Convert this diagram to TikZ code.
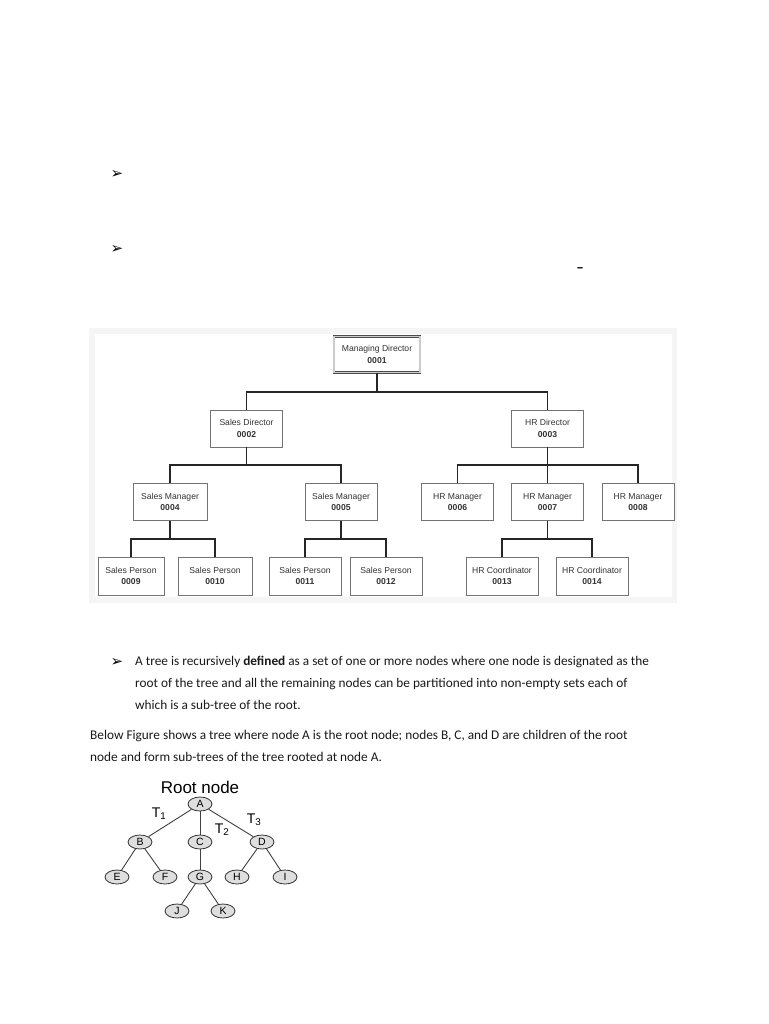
\documentclass[tikz,border=0pt]{standalone}
\usepackage{fontspec}
\setmainfont{Carlito}
\newfontfamily\orgfont{Liberation Sans}
\newfontfamily\symbolfont{DejaVu Sans}
\usetikzlibrary{shapes.geometric}

\begin{document}
\begin{tikzpicture}
	[
		x=1pt, y=-1pt,
		orgbox/.style={draw=black!55, line width=0.8pt, fill=white, align=center, minimum width=72pt, minimum height=37pt, inner sep=1pt, text=black!80, font=\orgfont\fontsize{8.6}{11.5}\selectfont},
		topbox/.style={orgbox, draw=black!70, double=black!20, double distance=1.2pt, minimum width=86pt, minimum height=36pt},
		orgline/.style={draw=black!85, line width=1.2pt},
		treenode/.style={ellipse, draw=black!80, fill=black!13, line width=0.8pt, minimum width=24pt, minimum height=14pt, inner sep=0pt, font=\orgfont\fontsize{10.5}{10.5}\selectfont},
		treelabel/.style={inner sep=0pt, font=\orgfont\fontsize{14}{15}\selectfont},
		bullet/.style={inner sep=0pt, font=\symbolfont\bfseries\fontsize{15}{15}\selectfont},
		bodytext/.style={anchor=north west, inner sep=0pt, align=left, text=black!90, font=\fontsize{13.3}{22}\selectfont}
	]

	\useasboundingbox (0,0) rectangle (768,1024);

	% text above the chart
	\node [bullet] (bul1) at (117,175) {➢};
	\node [bullet] (bul2) at (117,250) {➢};
	\node [inner sep=0pt, font=\bfseries\fontsize{15}{16}\selectfont] (dash) at (580,270) {–};

	% frame of the chart
	\fill [black!4] (89,328) rectangle (677,603);
	\fill [white] (95,334) rectangle (672,597);

	% org chart
	\node [topbox] (md) at (377,354.5) {Managing Director\\\textbf{0001}};

	\node [orgbox] (sd) at (246.5,428.5) {Sales Director\\\textbf{0002}};
	\node [orgbox] (hrd) at (547.5,428.5) {HR Director\\\textbf{0003}};

	\node [orgbox, minimum width=74pt] (sm4) at (170,502) {Sales Manager\\\textbf{0004}};
	\node [orgbox] (sm5) at (341,502) {Sales Manager\\\textbf{0005}};
	\node [orgbox] (hrm6) at (457.5,502) {HR Manager\\\textbf{0006}};
	\node [orgbox] (hrm7) at (547.5,502) {HR Manager\\\textbf{0007}};
	\node [orgbox] (hrm8) at (638,502) {HR Manager\\\textbf{0008}};

	\node [orgbox, minimum width=66pt, minimum height=38pt] (sp9) at (131,576) {Sales Person\\\textbf{0009}};
	\node [orgbox, minimum width=74pt, minimum height=38pt] (sp10) at (215,576) {Sales Person\\\textbf{0010}};
	\node [orgbox, minimum height=38pt] (sp11) at (305,576) {Sales Person\\\textbf{0011}};
	\node [orgbox, minimum height=38pt] (sp12) at (386,576) {Sales Person\\\textbf{0012}};
	\node [orgbox, minimum height=38pt] (hrc13) at (502,576) {HR Coordinator\\\textbf{0013}};
	\node [orgbox, minimum height=38pt] (hrc14) at (592,576) {HR Coordinator\\\textbf{0014}};

	\coordinate (mdbar) at (377,392);
	\coordinate (sdbar) at (246.5,465);
	\coordinate (hrdbar) at (547.5,465);
	\coordinate (sm4bar) at (170,539);
	\coordinate (sm5bar) at (341,539);
	\coordinate (hrm7bar) at (547.5,539);

	\draw [orgline] (md) -- (mdbar) -| (sd);
	\draw [orgline] (mdbar) -| (hrd);

	\draw [orgline] (sd) -- (sdbar) -| (sm4);
	\draw [orgline] (sdbar) -| (sm5);

	\draw [orgline] (hrd) -- (hrdbar) -| (hrm6);
	\draw [orgline] (hrdbar) -- (hrm7);
	\draw [orgline] (hrdbar) -| (hrm8);

	\draw [orgline] (sm4) -- (sm4bar) -| (sp9);
	\draw [orgline] (sm4bar) -| (sp10);

	\draw [orgline] (sm5) -- (sm5bar) -| (sp11);
	\draw [orgline] (sm5bar) -| (sp12);

	\draw [orgline] (hrm7) -- (hrm7bar) -| (hrc13);
	\draw [orgline] (hrm7bar) -| (hrc14);

	% text below the chart
	\node [bullet] (bul3) at (117,662) {➢};
	\node [bodytext] (para1) at (135,656)
	{A tree is recursively \textbf{defined} as a set of one or more nodes where one node is designated as the\\
	root of the tree and all the remaining nodes can be partitioned into non-empty sets each of\\
	which is a sub-tree of the root.};

	\node [bodytext] (para2) at (90,730)
	{Below Figure shows a tree where node A is the root node; nodes B, C, and D are children of the root\\
	node and form sub-trees of the tree rooted at node A.};

	% small tree
	\node [treelabel, font=\orgfont\fontsize{17}{18}\selectfont] (rootlabel) at (200,787) {Root node};

	\node [treenode] (ta) at (200,804) {A};
	\node [treenode] (tb) at (140,842) {B};
	\node [treenode] (tc) at (200,842) {C};
	\node [treenode] (td) at (262,842) {D};
	\node [treenode] (te) at (117,877) {E};
	\node [treenode] (tf) at (165,877) {F};
	\node [treenode] (tg) at (200,877) {G};
	\node [treenode] (th) at (237,877) {H};
	\node [treenode] (ti) at (285,877) {I};
	\node [treenode] (tj) at (177,911) {J};
	\node [treenode] (tk) at (223,911) {K};

	\node [treelabel] (t1) at (159,814) {T\textsubscript{1}};
	\node [treelabel] (t2) at (222,830) {T\textsubscript{2}};
	\node [treelabel] (t3) at (254,820) {T\textsubscript{3}};

	\path
	[draw=black!75, line width=0.9pt]
	(ta)       edge (tb)
	           edge (tc)
	           edge (td)
	(tb)       edge (te)
	           edge (tf)
	(tc)       edge (tg)
	(td)       edge (th)
	           edge (ti)
	(tg)       edge (tj)
	           edge (tk);

\end{tikzpicture}
\end{document}
